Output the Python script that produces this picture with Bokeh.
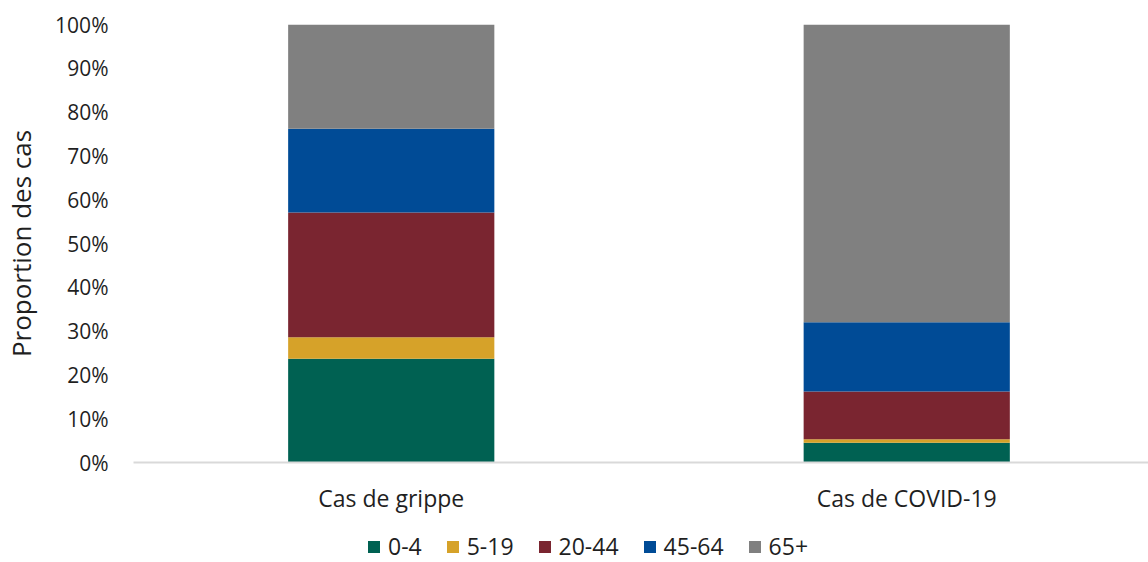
from bokeh.plotting import figure
from bokeh.layouts import column
from bokeh.models import Range1d, FixedTicker, PrintfTickFormatter, Legend, LegendItem, ColumnDataSource
from bokeh.embed import file_html
from bokeh.resources import INLINE

categories = ["Cas de grippe", "Cas de COVID-19"]
age_groups = ["0-4", "5-19", "20-44", "45-64", "65+"]
v_0_4 = [23.7, 4.5]
v_5_19 = [4.9, 0.8]
v_20_44 = [28.5, 10.9]
v_45_64 = [19.1, 15.8]
v_65 = [23.8, 68.0]
colors = ["#006152", "#D6A229", "#7A2530", "#004B96", "#808080"]

FONT = "Open Sans"
TXT = "#1f1f1f"

xpos = [i + 0.5 for i in range(len(categories))]
data = {"x": xpos, "0-4": v_0_4, "5-19": v_5_19, "20-44": v_20_44, "45-64": v_45_64, "65+": v_65}
src = ColumnDataSource(data)

p = figure(width=1148, height=525, output_backend="svg", toolbar_location=None,
           x_range=Range1d(0, 1.969), y_range=Range1d(0, 100),
           min_border_left=133, min_border_right=0, min_border_top=24, min_border_bottom=63)
p.outline_line_color = None
p.xgrid.visible = False
p.ygrid.visible = False

renderers = p.vbar_stack(age_groups, x="x", width=0.4, source=src, color=colors, line_color=None)

p.yaxis.ticker = FixedTicker(ticks=list(range(0, 101, 10)))
p.yaxis.formatter = PrintfTickFormatter(format="%d%%")
p.yaxis.axis_line_color = None
p.yaxis.major_tick_line_color = None
p.yaxis.minor_tick_line_color = None
p.yaxis.major_tick_out = 0
p.yaxis.major_label_standoff = 25
p.yaxis.major_label_text_font = FONT
p.yaxis.major_label_text_font_size = "21px"
p.yaxis.major_label_text_color = TXT
p.yaxis.axis_label = "Proportion des cas"
p.yaxis.axis_label_text_font = FONT
p.yaxis.axis_label_text_font_size = "26px"
p.yaxis.axis_label_text_font_style = "normal"
p.yaxis.axis_label_text_color = TXT
p.yaxis.axis_label_standoff = 13

p.xaxis.ticker = FixedTicker(ticks=xpos)
p.xaxis.major_label_overrides = {x: c for x, c in zip(xpos, categories)}
p.xaxis.axis_line_color = "#D9D9D9"
p.xaxis.axis_line_width = 2
p.xaxis.major_tick_line_color = None
p.xaxis.minor_tick_line_color = None
p.xaxis.major_tick_out = 0
p.xaxis.major_label_standoff = 19
p.xaxis.major_label_text_font = FONT
p.xaxis.major_label_text_font_size = "23px"
p.xaxis.major_label_text_color = TXT

# legend strip below the chart (frame aligned with the main chart's frame)
lg = figure(width=1148, height=37, output_backend="svg", toolbar_location=None,
            x_range=Range1d(0, 1), y_range=Range1d(0, 1),
            min_border_left=0, min_border_right=0, min_border_top=0, min_border_bottom=0)
lg.axis.visible = False
lg.grid.visible = False
lg.outline_line_color = None
dummy = ColumnDataSource({"x": [-5], "top": [0]})
items = []
for g, c in zip(age_groups, colors):
    r = lg.vbar(x="x", top="top", width=0.1, source=dummy, color=c, line_color=None)
    items.append(LegendItem(label=g, renderers=[r]))
legend = Legend(items=items, orientation="horizontal", location=(233, 0),
                label_text_font=FONT, label_text_font_size="23px", label_text_color=TXT,
                glyph_width=15, glyph_height=15, label_standoff=7, spacing=23,
                padding=0, margin=0, border_line_color=None, background_fill_alpha=0)
lg.add_layout(legend, "center")

layout = column(p, lg, spacing=0)
open("out.html", "w").write(file_html(layout, INLINE))
